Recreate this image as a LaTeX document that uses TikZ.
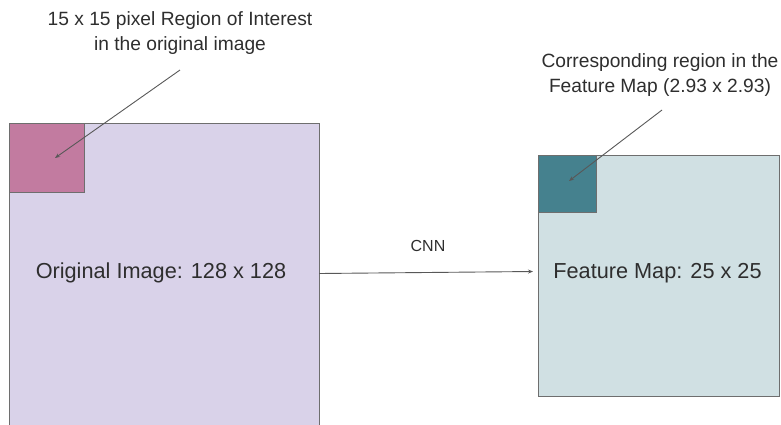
\documentclass[tikz,border=0pt]{standalone}
\usepackage{fontspec}
\setmainfont{Liberation Sans}
\usetikzlibrary{arrows.meta}
\definecolor{imgfill}{HTML}{D9D2E9}
\definecolor{roifill}{HTML}{C27BA0}
\definecolor{mapfill}{HTML}{D0E0E3}
\definecolor{regfill}{HTML}{45818E}
\definecolor{txt}{HTML}{2E2E2E}
\definecolor{edge}{HTML}{6E6E6E}
\tikzset{
  box/.style={draw=edge, line width=0.9pt},
  lbl/.style={text=txt, align=center, inner sep=0pt},
  leader/.style={draw=txt!80, line width=0.9pt, -{Stealth[length=5pt,width=4pt]}},
}
\begin{document}
\begin{tikzpicture}[x=1pt,y=-1pt]
\useasboundingbox (0,0) rectangle (781,424);
% original image
\path[box, fill=imgfill] (9,123) rectangle (319,432);
\node[box, fill=roifill, minimum width=75pt, minimum height=69pt, anchor=north west, inner sep=0pt] (roi) at (9,123) {};
\coordinate (roic) at (55,158);
\node[lbl, font=\fontsize{21.7}{26}\selectfont] (orig) at (161,273) {Original Image: 128 x 128};
% feature map
\node[box, fill=mapfill, minimum width=241pt, minimum height=241pt, anchor=north west, inner sep=0pt] (fmap) at (538,155) {};
\node[box, fill=regfill, minimum width=58pt, minimum height=57pt, anchor=north west, inner sep=0pt] (reg) at (538,155) {};
\coordinate (regc) at (569,181);
\node[lbl, font=\fontsize{21.7}{26}\selectfont] (fm) at (657.5,273) {Feature Map: 25 x 25};
% labels
\node[lbl, font=\fontsize{19.2}{25}\selectfont] (roilbl) at (180,33) {15 x 15 pixel Region of Interest\\in the original image};
\node[lbl, font=\fontsize{19.2}{25}\selectfont] (reglbl) at (660,75) {Corresponding region in the\\Feature Map (2.93 x 2.93)};
\coordinate (roistart) at (180,70);
\coordinate (regstart) at (662,110);
\draw[leader] (roistart) -- (roic);
\draw[leader] (regstart) -- (regc);
% CNN arrow
\coordinate (arrS) at (319,273.5);
\coordinate (arrE) at (533,271.5);
\draw[leader] (arrS) -- (arrE);
\node[lbl, font=\fontsize{16}{20}\selectfont] (cnn) at (428,246) {CNN};
\end{tikzpicture}
\end{document}
